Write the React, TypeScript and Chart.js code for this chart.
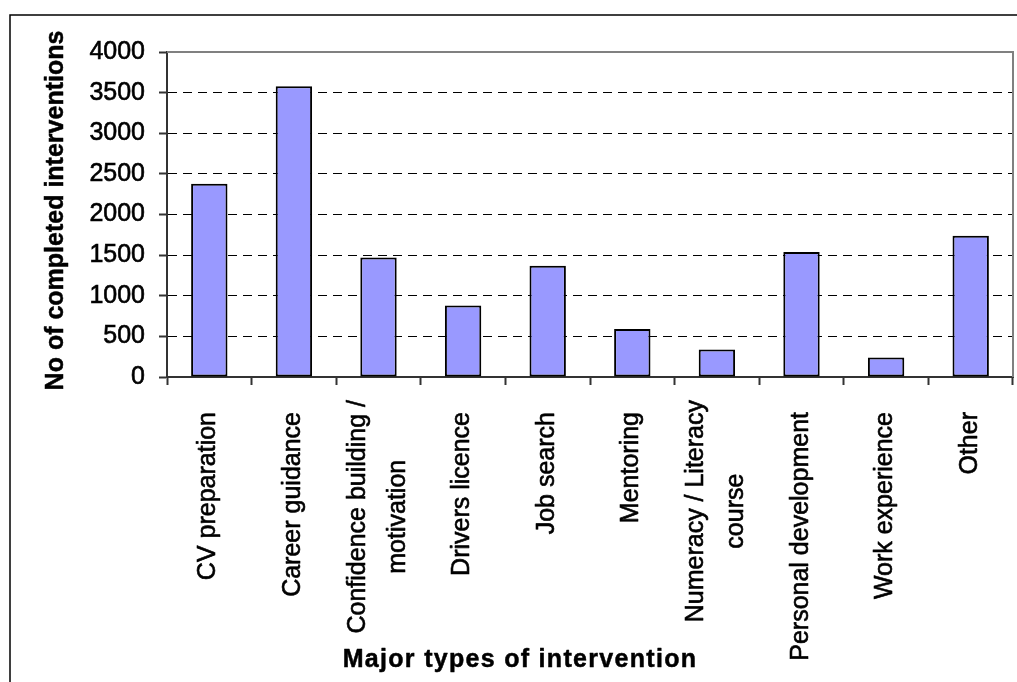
import { useEffect, useRef } from 'react';
import { Chart, registerables } from 'chart.js';

Chart.register(...registerables);

// Intervention categories (each entry = the lines of its axis label)
const categories: string[][] = [
  ['CV preparation'],
  ['Career guidance'],
  ['Confidence building /', 'motivation'],
  ['Drivers licence'],
  ['Job search'],
  ['Mentoring'],
  ['Numeracy / Literacy', 'course'],
  ['Personal development'],
  ['Work experience'],
  ['Other'],
];

// Number of completed interventions per category
const completed: number[] = [2380, 3580, 1470, 880, 1370, 590, 340, 1540, 240, 1740];

// Value axis range and step
const yMin = 0;
const yMax = 4000;
const yStep = 500;

const yTitle = 'No of completed interventions';
const xTitle = 'Major types of intervention';

const FONT = '"Liberation Sans", Arial, Helvetica, sans-serif';

// draw text with a light outline so the strokes read a little heavier
function heavyText(ctx: CanvasRenderingContext2D, text: string, x: number, y: number, weight: number) {
  ctx.lineWidth = weight;
  ctx.strokeStyle = '#000';
  ctx.lineJoin = 'round';
  ctx.strokeText(text, x, y);
  ctx.fillText(text, x, y);
}

const decorPlugin = {
  id: 'decor',
  afterDraw(chart: any) {
    const { ctx, chartArea, scales } = chart;
    const xs = scales.x;
    ctx.save();

    // plot-area frame (top and right edges)
    ctx.strokeStyle = '#808080';
    ctx.lineWidth = 2;
    ctx.beginPath();
    ctx.moveTo(chartArea.left, chartArea.top);
    ctx.lineTo(chartArea.right, chartArea.top);
    ctx.lineTo(chartArea.right, chartArea.bottom);
    ctx.stroke();

    // outer chart frame
    ctx.strokeStyle = '#000';
    ctx.lineWidth = 1.5;
    ctx.beginPath();
    ctx.moveTo(10, chart.height);
    ctx.lineTo(10, 15);
    ctx.lineTo(chart.width, 15);
    ctx.stroke();

    // vertical category labels, lines centred within each block
    ctx.fillStyle = '#000';
    ctx.font = `25px ${FONT}`;
    categories.forEach((lines, i) => {
      const px = xs.getPixelForValue(i);
      const w = Math.max(...lines.map((l) => ctx.measureText(l).width));
      const top = chartArea.bottom + 35 - 12 * (lines.length - 1);
      ctx.save();
      ctx.translate(px, top + w / 2);
      ctx.rotate(-Math.PI / 2);
      ctx.textAlign = 'center';
      ctx.textBaseline = 'alphabetic';
      lines.forEach((l, j) => {
        heavyText(ctx, l, 0, 6 + (j - (lines.length - 1) / 2) * 40, 0.6);
      });
      ctx.restore();
    });

    // value axis title
    ctx.font = `bold 25px ${FONT}`;
    ctx.save();
    ctx.translate(63, (chartArea.top + chartArea.bottom) / 2 - 4);
    ctx.rotate(-Math.PI / 2);
    ctx.textAlign = 'center';
    ctx.textBaseline = 'alphabetic';
    heavyText(ctx, yTitle, 0, 0, 0.5);
    ctx.restore();

    // category axis title
    ctx.save();
    (ctx as any).letterSpacing = '1.3px';
    ctx.textAlign = 'center';
    ctx.textBaseline = 'alphabetic';
    heavyText(ctx, xTitle, 520, 667, 0.5);
    ctx.restore();

    ctx.restore();
  },
};

export default function App() {
  const canvasRef = useRef<HTMLCanvasElement | null>(null);

  useEffect(() => {
    const canvas = canvasRef.current;
    if (!canvas) return;
    const chart = new Chart(canvas, {
      type: 'bar',
      data: {
        labels: categories.map((c) => c.join(' ')),
        datasets: [
          {
            data: completed,
            backgroundColor: '#9999FF',
            borderColor: '#000000',
            borderWidth: 2,
            borderSkipped: false,
            categoryPercentage: 1,
            barPercentage: 0.43,
          },
        ],
      },
      options: {
        responsive: false,
        animation: false,
        devicePixelRatio: 1,
        layout: { padding: { top: 52, right: 4, left: 0, bottom: 0 } },
        plugins: {
          legend: { display: false },
          tooltip: { enabled: false },
        },
        scales: {
          x: {
            afterFit: (scale: any) => {
              scale.height = 305;
            },
            ticks: { display: false },
            grid: {
              offset: true,
              drawOnChartArea: false,
              drawTicks: true,
              tickLength: 8,
              tickColor: '#333333',
              tickWidth: 2,
            },
            border: { display: true, color: '#333333', width: 2 },
          },
          y: {
            min: yMin,
            max: yMax,
            afterFit: (scale: any) => {
              scale.width = 167;
            },
            ticks: {
              stepSize: yStep,
              color: '#000',
              padding: 14,
              font: { family: FONT, size: 25 },
              textStrokeColor: '#000',
              textStrokeWidth: 0.6,
              callback: (v: any) => String(v),
            },
            grid: {
              color: (c: any) =>
                c.tick && (c.tick.value === yMax || c.tick.value === yMin) ? 'rgba(0,0,0,0)' : '#000000',
              lineWidth: 1,
              drawTicks: true,
              tickLength: 8,
              tickColor: '#333333',
              tickWidth: 2,
            },
            border: { display: true, color: '#333333', width: 2, dash: [9, 6] },
          },
        },
      },
      plugins: [decorPlugin],
    });
    return () => chart.destroy();
  }, []);

  return (
    <div style={{ position: 'fixed', left: 0, top: 0, width: 1017, height: 682, background: '#fff' }}>
      <canvas ref={canvasRef} width={1017} height={682} style={{ width: 1017, height: 682, display: 'block' }} />
    </div>
  );
}
